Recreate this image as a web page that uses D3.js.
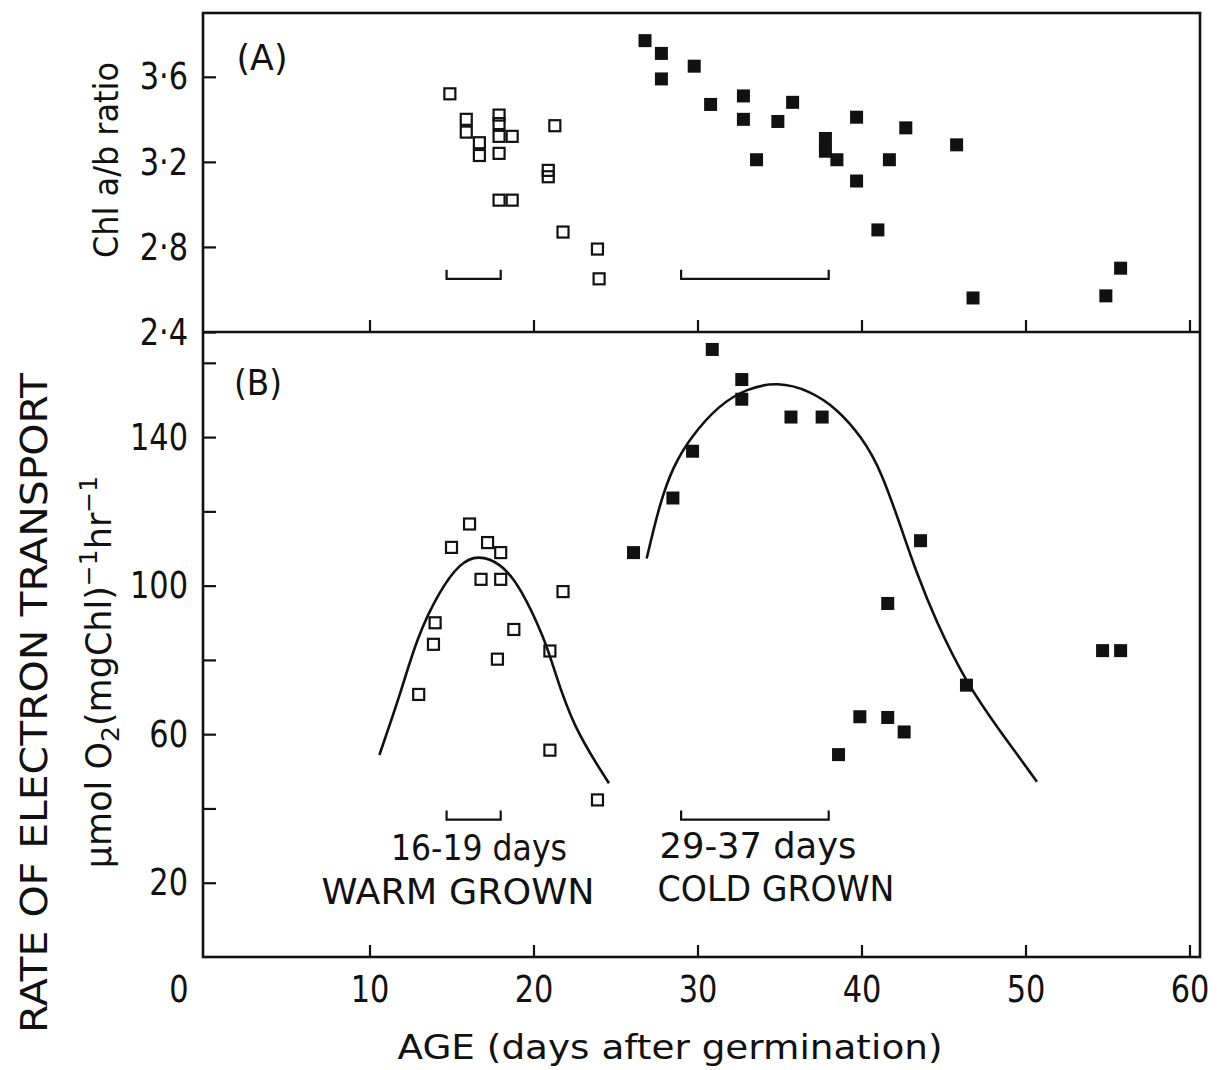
<!DOCTYPE html>
<html>
<head>
<meta charset="utf-8">
<script src="https://cdn.jsdelivr.net/npm/d3@7"></script>
<style>
    body { margin: 0; background: #fff; }
    svg text { font-family: "DejaVu Sans", sans-serif; fill: #111; }
</style>
</head>
<body>
<div id="chart"></div>
<script>
// axis ticks
const ageTicks = [0, 10, 20, 30, 40, 50, 60];
const ratioTicks = [2.4, 2.8, 3.2, 3.6];
const rateTicks = [20, 40, 60, 80, 100, 120, 140, 160];
const rateLabels = [20, 60, 100, 140];

// (A) Chl a/b ratio, warm grown (open) and cold grown (filled)
const warmAgeA = [14.9, 15.9, 15.9, 16.7, 16.7, 17.9, 17.9, 17.9, 18.7, 17.9, 21.3, 20.9, 20.9, 17.9, 18.7, 21.8, 23.9, 24.0];
const warmRatioA = [3.52, 3.40, 3.34, 3.29, 3.23, 3.42, 3.38, 3.32, 3.32, 3.24, 3.37, 3.16, 3.13, 3.02, 3.02, 2.87, 2.79, 2.65];
const coldAgeA = [26.8, 27.8, 27.8, 29.8, 30.8, 32.8, 32.8, 33.6, 34.9, 35.8, 37.8, 37.8, 38.5, 39.7, 39.7, 41.7, 42.7, 41.0, 45.8, 46.8, 54.9, 55.8];
const coldRatioA = [3.77, 3.71, 3.59, 3.65, 3.47, 3.51, 3.40, 3.21, 3.39, 3.48, 3.31, 3.25, 3.21, 3.41, 3.11, 3.21, 3.36, 2.88, 3.28, 2.56, 2.57, 2.70];

// (B) rate of electron transport
const warmAgeB = [16.1, 15.0, 17.2, 18.0, 16.8, 18.0, 21.8, 14.0, 13.9, 18.8, 17.8, 21.0, 13.0, 21.0, 23.9];
const warmRateB = [116.6, 110.3, 111.6, 108.9, 101.7, 101.7, 98.4, 90.0, 84.2, 88.2, 80.2, 82.4, 70.7, 55.7, 42.3];
const coldAgeB = [26.1, 28.5, 29.7, 30.9, 32.7, 32.7, 35.7, 37.6, 43.6, 41.6, 54.7, 55.8, 46.4, 39.9, 41.6, 42.6, 38.6];
const coldRateB = [108.9, 123.6, 136.2, 163.6, 155.5, 150.2, 145.4, 145.4, 112.1, 95.2, 82.5, 82.5, 73.2, 64.7, 64.5, 60.6, 54.5];

// hand drawn curves through (B)
const warmCurveAge = [10.6, 11.9, 12.9, 14.3, 15.5, 16.6, 18.0, 19.2, 20.7, 21.2, 22.4, 24.6];
const warmCurveRate = [54.4, 71.0, 86.2, 98.8, 106.0, 108.3, 106.1, 99.7, 85.4, 78.2, 62.0, 46.8];
const coldCurveAge = [26.9, 27.7, 28.5, 29.6, 31.3, 33.0, 34.9, 36.8, 38.5, 40.0, 41.2, 42.6, 43.3, 44.5, 46.4, 48.4, 50.7];
const coldCurveRate = [107.3, 122.2, 132.0, 140.1, 148.6, 153.1, 154.9, 152.6, 147.7, 140.1, 131.1, 113.2, 104.2, 90.7, 73.7, 61.1, 47.2];

// age brackets
const warmSpan = [14.7, 18.0];
const coldSpan = [29.0, 38.0];
const bracketRatio = 2.65;
const bracketRate = 37;

function drawChart(graphID) {
    let W = 1227, H = 1070;
    let frame = {left: 203, right: 1200, top: 13, mid: 332, bottom: 957};

    let svg = d3.select(graphID).append('svg')
        .attr('width', W)
        .attr('height', H);

    // Scales
    let x = d3.scaleLinear().domain([0, 60]).range([205.5, 1189.5]);
    let yA = d3.scaleLinear().domain([2.4, 3.9]).range([frame.mid, frame.top]);
    let yB = d3.scaleLinear().domain([0, 168.3]).range([frame.bottom, frame.mid]);

    let dot = d => d3.format('.1f')(d).replace('.', '\u00b7');

    // squeeze text a bit, the original lettering is narrow
    function narrow(sel, k) {
        sel.each(function () {
            let len = this.getComputedTextLength();
            d3.select(this).attr('textLength', len * k).attr('lengthAdjust', 'spacingAndGlyphs');
        });
    }

    // x axes (ticks point inwards)
    let xAxisB = svg.append('g')
        .attr('transform', 'translate(0,' + frame.bottom + ')')
        .call(d3.axisBottom(x).tickValues(ageTicks).tickSizeInner(-12).tickSizeOuter(0).tickPadding(18));
    svg.append('g')
        .attr('transform', 'translate(0,' + frame.mid + ')')
        .call(d3.axisBottom(x).tickValues(ageTicks.slice(1)).tickSizeInner(-12).tickSizeOuter(0).tickFormat(''));

    // y axes
    svg.append('g')
        .attr('transform', 'translate(' + frame.left + ',0)')
        .call(d3.axisLeft(yA).tickValues(ratioTicks).tickSizeInner(-13).tickSizeOuter(0).tickPadding(15).tickFormat(dot));
    svg.append('g')
        .attr('transform', 'translate(' + frame.left + ',0)')
        .call(d3.axisLeft(yB).tickValues(rateTicks).tickSizeInner(-13).tickSizeOuter(0).tickPadding(15)
            .tickFormat(d => rateLabels.includes(d) ? d : ''));

    svg.selectAll('.domain').remove();
    svg.selectAll('.tick line').attr('stroke', '#111').attr('stroke-width', 2.2);
    svg.selectAll('.tick text').attr('font-size', 38).attr('fill', '#111');
    narrow(svg.selectAll('.tick text'), 0.8);

    // the 0 sits in the corner, under the y labels; its tick is the frame itself
    xAxisB.selectAll('.tick').filter(d => d === 0).select('line').remove();
    xAxisB.selectAll('.tick text').filter(d => d === 0)
        .attr('text-anchor', 'end')
        .attr('x', 188 - x(0));

    // Frame and panel divider
    svg.append('rect')
        .attr('x', frame.left).attr('y', frame.top)
        .attr('width', frame.right - frame.left).attr('height', frame.bottom - frame.top)
        .attr('fill', 'none').attr('stroke', '#111').attr('stroke-width', 2.6);
    svg.append('line')
        .attr('x1', frame.left).attr('x2', frame.right)
        .attr('y1', yA(2.4)).attr('y2', yA(2.4))
        .attr('stroke', '#111').attr('stroke-width', 2.6);

    // Curves
    let line = d3.line().curve(d3.curveBasis);
    let warmCurve = warmCurveAge.map((d, i) => [x(d), yB(warmCurveRate[i])]);
    let coldCurve = coldCurveAge.map((d, i) => [x(d), yB(coldCurveRate[i])]);
    [warmCurve, coldCurve].forEach(function (pts) {
        svg.append('path')
            .attr('d', line(pts))
            .attr('fill', 'none')
            .attr('stroke', '#111')
            .attr('stroke-width', 2.6);
    });

    // Points
    function openSquares(ages, vals, y) {
        svg.append('g').selectAll('rect')
            .data(ages)
            .enter().append('rect')
            .attr('x', d => x(d) - 5.5)
            .attr('y', (d, i) => y(vals[i]) - 5.5)
            .attr('width', 11).attr('height', 11)
            .attr('fill', 'none')
            .attr('stroke', '#111')
            .attr('stroke-width', 2.2);
    }
    function filledSquares(ages, vals, y) {
        svg.append('g').selectAll('rect')
            .data(ages)
            .enter().append('rect')
            .attr('x', d => x(d) - 6.5)
            .attr('y', (d, i) => y(vals[i]) - 6.5)
            .attr('width', 13).attr('height', 13)
            .attr('fill', '#111');
    }
    openSquares(warmAgeA, warmRatioA, yA);
    filledSquares(coldAgeA, coldRatioA, yA);
    openSquares(warmAgeB, warmRateB, yB);
    filledSquares(coldAgeB, coldRateB, yB);

    // Brackets
    function bracket(span, yy) {
        let x0 = x(span[0]), x1 = x(span[1]);
        svg.append('path')
            .attr('d', 'M' + x0 + ',' + (yy - 9) + 'L' + x0 + ',' + yy + 'L' + x1 + ',' + yy + 'L' + x1 + ',' + (yy - 9))
            .attr('fill', 'none')
            .attr('stroke', '#111')
            .attr('stroke-width', 2.2);
    }
    bracket(warmSpan, yA(bracketRatio));
    bracket(coldSpan, yA(bracketRatio));
    bracket(warmSpan, yB(bracketRate));
    bracket(coldSpan, yB(bracketRate));

    // Text labels
    function label(txt, cx, by, size, len) {
        let t = svg.append('text')
            .attr('x', cx).attr('y', by)
            .attr('text-anchor', 'middle')
            .attr('font-size', size)
            .text(txt);
        if (len) t.attr('textLength', len).attr('lengthAdjust', 'spacingAndGlyphs');
        return t;
    }
    label('(A)', 262, 70, 36, 51);
    label('(B)', 258, 395, 36, 48);
    label('16-19 days', 479, 860, 36, 176);
    label('WARM  GROWN', 458, 904, 36, 273);
    label('29-37 days', 758, 858, 36, 197);
    label('COLD GROWN', 776, 901, 36, 237);
    label('AGE (days after germination)', 670, 1059, 34, 545);

    // rotated axis titles
    svg.append('text')
        .attr('transform', 'translate(118,160) rotate(-90)')
        .attr('text-anchor', 'middle')
        .attr('font-size', 34)
        .attr('textLength', 196).attr('lengthAdjust', 'spacingAndGlyphs')
        .text('Chl a/b ratio');

    svg.append('text')
        .attr('transform', 'translate(47,703) rotate(-90)')
        .attr('text-anchor', 'middle')
        .attr('font-size', 38)
        .attr('textLength', 660).attr('lengthAdjust', 'spacingAndGlyphs')
        .text('RATE OF ELECTRON TRANSPORT');

    let unit = svg.append('text')
        .attr('transform', 'translate(111,672) rotate(-90)')
        .attr('text-anchor', 'middle')
        .attr('font-size', 35);
    unit.append('tspan').text('\u00b5mol O');
    unit.append('tspan').attr('font-size', 25).attr('dy', 8).text('2');
    unit.append('tspan').attr('dy', -8).text('(mgChl)');
    unit.append('tspan').attr('font-size', 25).attr('dy', -14).text('\u22121');
    unit.append('tspan').attr('dy', 14).text('hr');
    unit.append('tspan').attr('font-size', 25).attr('dy', -14).text('\u22121');
}

drawChart('#chart');
</script>
</body>
</html>
